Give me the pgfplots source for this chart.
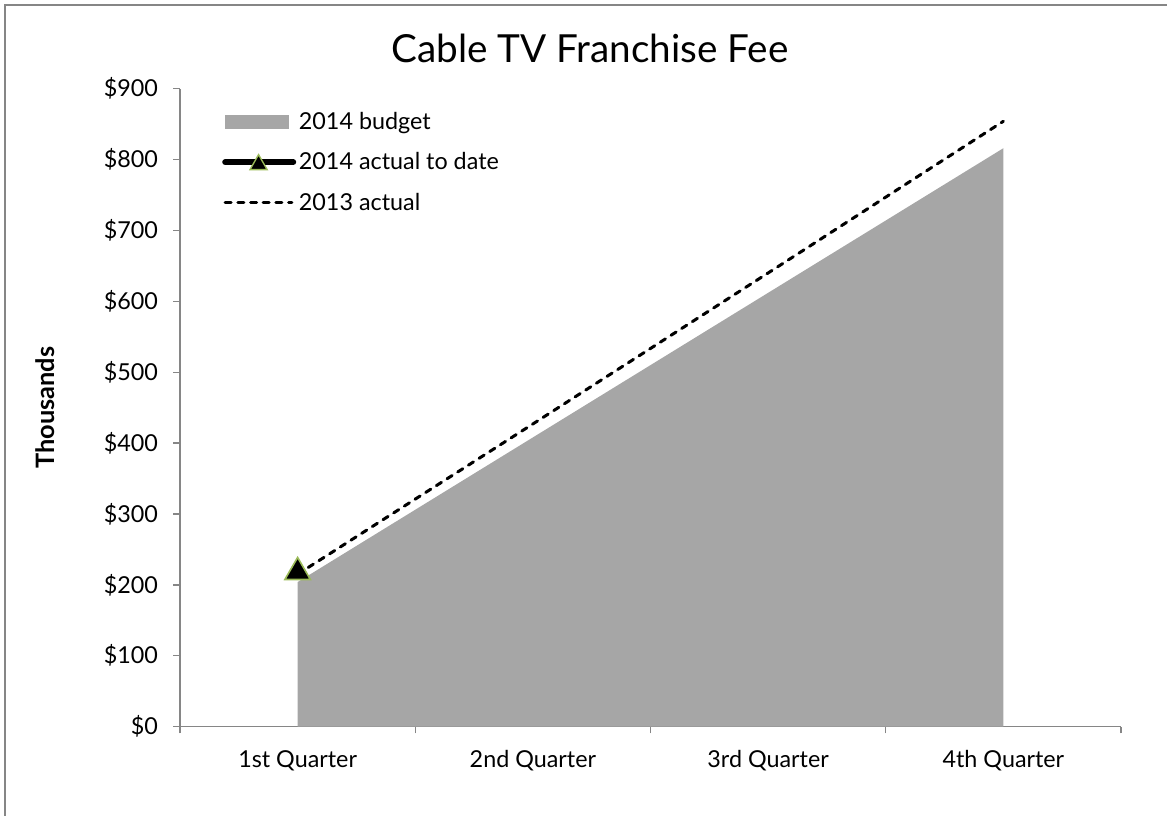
\documentclass[border=0pt]{standalone}
\usepackage{fontspec}
\setmainfont{Lato}
\usepackage{pgfplots}
\pgfplotsset{compat=1.18}
\definecolor{areagray}{HTML}{A6A6A6}
\definecolor{axisgray}{HTML}{868686}
\definecolor{mkgreen}{HTML}{9BBB59}

\begin{document}
\begin{tikzpicture}
\path[use as bounding box] (0,0) rectangle (875.25pt,612pt);
\draw[axisgray, line width=1.5pt] (4.1pt,0) -- (4.1pt,608.2pt) -- (875.25pt,608.2pt);
\node[font=\fontsize{29}{34}\selectfont] at (442.5pt,576pt) {Cable TV Franchise Fee};
\begin{axis}[
    at={(135pt,67pt)}, anchor=south west,
    scale only axis, width=705.75pt, height=478.5pt,
    xmin=0.5, xmax=4.5, ymin=0, ymax=900,
    axis lines*=left,
    axis line style={axisgray, line width=1pt},
    xtick={1,2,3,4},
    xticklabels={1st Quarter,2nd Quarter,3rd Quarter,4th Quarter},
    minor xtick={0.5,1.5,2.5,3.5,4.5},
    ytick={0,100,...,900},
    yticklabels={\$0,\$100,\$200,\$300,\$400,\$500,\$600,\$700,\$800,\$900},
    tick align=outside,
    major tick length=5pt, minor tick length=5pt,
    tick style={axisgray, line width=1pt},
    major x tick style={draw=none},
    ticklabel style={font=\fontsize{17.5}{21}\selectfont},
    y tick label style={xshift=-8pt},
    x tick label style={yshift=-9pt, text height=13pt, text depth=4pt},
    ylabel={Thousands},
    ylabel style={font=\bfseries\fontsize{19}{23}\selectfont, at={(rel axis cs:-0.1435,0.5)}, anchor=center},
    legend style={at={(rel axis cs:0.0446,0.968)}, anchor=north west, draw=none, fill=none,
        font=\fontsize{17.5}{21}\selectfont, row sep=12pt, inner sep=0pt},
    legend cell align=left,
]
\addlegendimage{legend image code/.code={\fill[areagray] (0pt,-5pt) rectangle (47pt,5pt);}}
\addlegendentry{2014 budget}
\addlegendimage{legend image code/.code={
    \draw[black, line width=4.5pt, line cap=round] (0pt,0pt) -- (51pt,0pt);
    \filldraw[draw=mkgreen, fill=black, line width=1pt] (18.6pt,-5.6pt) -- (31.4pt,-5.6pt) -- (25pt,5.6pt) -- cycle;}}
\addlegendentry{2014 actual to date}
\addlegendimage{legend image code/.code={
    \draw[black, line width=2.25pt, line cap=round, dash pattern=on 4.5pt off 5pt] (0pt,0pt) -- (50pt,0pt);}}
\addlegendentry{2013 actual}

% 2014 budget
\addplot[fill=areagray, draw=none, forget plot] coordinates {
    (1,204) (2,408) (3,612) (4,816)
} \closedcycle;
% 2013 actual
\addplot[black, line width=2.25pt, line cap=round, dash pattern=on 4.5pt off 5pt, forget plot] coordinates {
    (1,215) (2,427) (3,640) (4,854)
};
% 2014 actual to date
\addplot[black, line width=4.5pt, mark=triangle*, mark size=11pt,
    mark options={draw=mkgreen, fill=black, line width=1.2pt, solid}, forget plot] coordinates {
    (1,218)
};
\end{axis}
\end{tikzpicture}
\end{document}
